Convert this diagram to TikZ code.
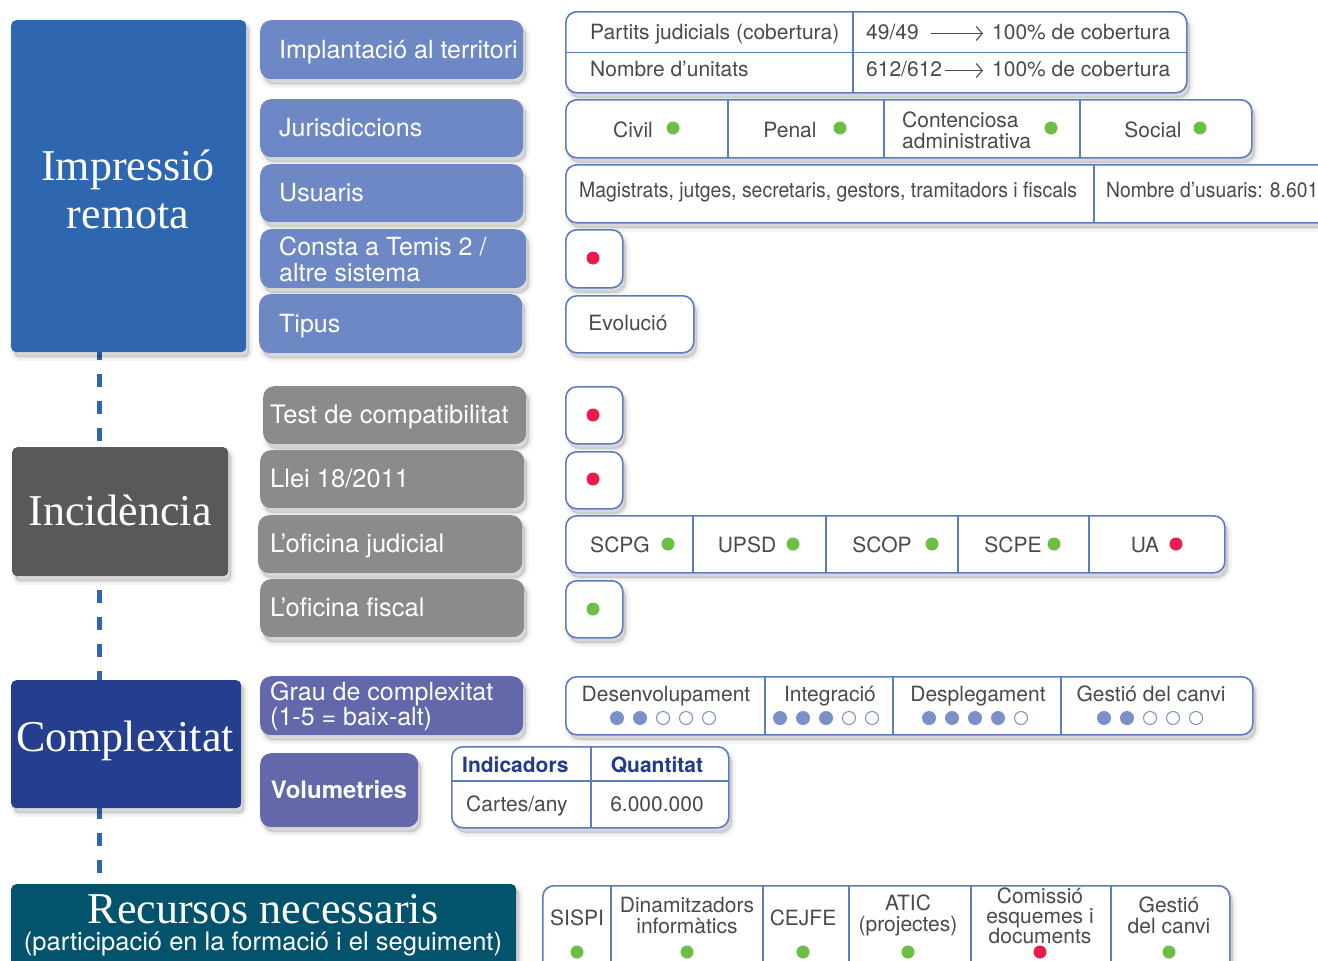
\documentclass[tikz,border=0pt]{standalone}
\usepackage{fontspec}
\usepackage{graphicx}
\setmainfont{TeX Gyre Heros}
\newfontfamily\headfont{Liberation Serif}
\usetikzlibrary{arrows.meta,backgrounds}
\definecolor{impblue}{HTML}{2E66B0}
\definecolor{impchild}{HTML}{6E87C5}
\definecolor{incgrey}{HTML}{58595B}
\definecolor{incchild}{HTML}{8A8B8D}
\definecolor{compblue}{HTML}{253F8E}
\definecolor{compchild}{HTML}{6268A9}
\definecolor{recteal}{HTML}{02536B}
\definecolor{tblborder}{HTML}{5B7CC0}
\definecolor{txtgrey}{HTML}{4A4A4A}
\definecolor{okgreen}{HTML}{6DBE45}
\definecolor{nored}{HTML}{EC1B4B}
\definecolor{dotblue}{HTML}{7B8FC9}
\definecolor{hdrblue}{HTML}{1F3C8C}
\definecolor{linegrey}{HTML}{5A5A5A}
\tikzset{
 shad/.style={
   preaction={fill=black,fill opacity=0.05,draw=black,draw opacity=0.04,line width=8pt,transform canvas={xshift=3pt,yshift=-5pt}},
   preaction={fill=black,fill opacity=0.07,draw=black,draw opacity=0.06,line width=3pt,transform canvas={xshift=3pt,yshift=-5pt}}},
 headbox/.style={rounded corners=5pt,shad,anchor=north west,inner sep=0pt},
 headtext/.style={text=white,font=\headfont\fontsize{44}{48}\selectfont,align=center,inner sep=0pt},
 childbox/.style={rounded corners=11pt,shad,anchor=north west,inner sep=0pt},
 childtext/.style={text=white,font=\fontsize{25}{27}\selectfont,anchor=west,inner sep=0pt,text height=18pt,text depth=5pt},
 childtexttwo/.style={text=white,font=\fontsize{25}{26}\selectfont,anchor=west,inner sep=0pt,align=left},
 tbl/.style={draw=tblborder,line width=1.6pt,fill=white,rounded corners=11pt,shad,anchor=north west,inner sep=0pt},
 div/.style={draw=tblborder,line width=1.4pt},
 cell/.style={text=txtgrey,font=\fontsize{21}{21}\selectfont,inner sep=0pt,text height=15pt,text depth=4pt},
 mcell/.style={text=txtgrey,font=\fontsize{21}{21}\selectfont,inner sep=0pt,align=center},
 conn/.style={draw=linegrey,line width=1.2pt},
 arr/.style={draw=txtgrey,line width=1.1pt,-{Straight Barb[length=6pt,width=14pt]}},
 gdot/.style={fill=okgreen},
 rdot/.style={fill=nored},
}
\begin{document}
\begin{tikzpicture}[x=1pt,y=-1pt]
\useasboundingbox (0,0) rectangle (1318,961);
\clip (0,0) rectangle (1318,961);
\fill[white] (0,0) rectangle (1318,961);
\coordinate (dtop) at (99,347);
\coordinate (dbot) at (99,890);
\draw[impblue,line width=5pt,dash pattern=on 13pt off 14pt] (dtop) -- (dbot);

% ---------- Impressió remota ----------
\node[headbox,fill=impblue,minimum width=235,minimum height=332] (imp) at (11,20) {};
\node[headtext] (imp-t) at (128,189) {Impressió\\remota};

\node[childbox,fill=impchild,minimum width=263,minimum height=59] (impl) at (260,20) {};
\node[childtext] (impl-t) at (279,51.5) {Implantació al territori};
\node[childbox,fill=impchild,minimum width=263,minimum height=58] (jur) at (260,99) {};
\node[childtext] (jur-t) at (279,130) {Jurisdiccions};
\node[childbox,fill=impchild,minimum width=263,minimum height=58] (usu) at (260,164) {};
\node[childtext] (usu-t) at (279,195) {Usuaris};
\node[childbox,fill=impchild,minimum width=266,minimum height=59] (con) at (260,229) {};
\node[childtexttwo] (con-t) at (279,259) {Consta a Temis 2 /\\altre sistema};
\node[childbox,fill=impchild,minimum width=263,minimum height=59] (tip) at (259,294) {};
\node[childtext] (tip-t) at (279,325.5) {Tipus};

% table 1
\node[tbl,minimum width=621,minimum height=81] (t1) at (565,11) {};
\draw[div] (t1.west) -- (t1.east);
\draw[div] (853,11) -- (853,92);
\node[cell,anchor=west] (t1a) at (590,33.5) {Partits judicials (cobertura)};
\node[cell,anchor=west] (t1b) at (866,33.5) {49/49};
\node[cell,anchor=west] (t1c) at (992,33.5) {100\% de cobertura};
\draw[arr] ([xshift=12pt]t1b.east) -- ([xshift=-9pt]t1c.west);
\node[cell,anchor=west] (t1d) at (590,70.5) {Nombre d’unitats};
\node[cell,anchor=west] (t1e) at (866,70.5) {612/612};
\node[cell,anchor=west] (t1f) at (992,70.5) {100\% de cobertura};
\draw[arr] ([xshift=3pt]t1e.east) -- ([xshift=-9pt]t1f.west);

% table 2
\node[tbl,minimum width=686,minimum height=58] (t2) at (565,99) {};
\draw[div] (728,99) -- (728,157);
\draw[div] (884,99) -- (884,157);
\draw[div] (1080,99) -- (1080,157);
\node[cell] (civ) at (633,131.5) {Civil};
\fill[gdot] (673,128) circle (6.5pt);
\node[cell] (pen) at (790,131.5) {Penal};
\fill[gdot] (840,128) circle (6.5pt);
\node[mcell,align=left,anchor=west] (cont) at (902,130) {Contenciosa\\administrativa};
\fill[gdot] (1051,128) circle (6.5pt);
\node[cell] (soc) at (1153,131.5) {Social};
\fill[gdot] (1200,128) circle (6.5pt);

% table 3
\node[tbl,minimum width=800,minimum height=58] (t3) at (565,164) {};
\draw[div] (1094,164) -- (1094,222);
\node[cell,anchor=west] (mag) at (579,191.5) {\scalebox{0.925}[1]{Magistrats, jutges, secretaris, gestors, tramitadors i fiscals}};
\node[cell,anchor=west] (nus) at (1106,191.5) {\scalebox{0.92}[1]{Nombre d’usuaris: 8.601}};

\node[tbl,minimum width=57,minimum height=58] (conr) at (565,229) {};
\fill[rdot] (593,258) circle (6.5pt);
\node[tbl,minimum width=128,minimum height=57] (tipr) at (565,295) {};
\node[cell] (evo) at (628,324.5) {Evolució};

% ---------- Incidència ----------
\node[headbox,fill=incgrey,minimum width=216,minimum height=129] (inc) at (12,447) {};
\node[headtext] (inc-t) at (120,510) {Incidència};
\coordinate (incT) at (180,447);
\coordinate (incB) at (180,576);

\node[childbox,fill=incchild,minimum width=263,minimum height=58] (test) at (263,386) {};
\node[childtext,font=\fontsize{25.5}{27}\selectfont] (test-t) at (270,417) {Test de compatibilitat};
\node[childbox,fill=incchild,minimum width=264,minimum height=58] (llei) at (260,450) {};
\node[childtext,font=\fontsize{25.5}{27}\selectfont] (llei-t) at (270,481) {Llei 18/2011};
\node[childbox,fill=incchild,minimum width=264,minimum height=58] (ofj) at (258,515) {};
\node[childtext,font=\fontsize{25.5}{27}\selectfont] (ofj-t) at (270,546) {L’oficina judicial};
\node[childbox,fill=incchild,minimum width=264,minimum height=58] (off) at (260,579) {};
\node[childtext,font=\fontsize{25.5}{27}\selectfont] (off-t) at (270,610) {L’oficina fiscal};

\node[tbl,minimum width=57,minimum height=57] (testr) at (565,386) {};
\fill[rdot] (593,415) circle (6.5pt);
\node[tbl,minimum width=57,minimum height=57] (leir) at (565,451) {};
\fill[rdot] (593,479) circle (6.5pt);
\node[tbl,minimum width=659,minimum height=57] (ofjr) at (565,515) {};
\draw[div] (693,515) -- (693,572);
\draw[div] (826,515) -- (826,572);
\draw[div] (958,515) -- (958,572);
\draw[div] (1089,515) -- (1089,572);
\node[cell] (scpg) at (620,546.5) {SCPG};
\fill[gdot] (668,544) circle (6.5pt);
\node[cell] (upsd) at (747,546.5) {UPSD};
\fill[gdot] (793,544) circle (6.5pt);
\node[cell] (scop) at (882,546.5) {SCOP};
\fill[gdot] (932,544) circle (6.5pt);
\node[cell] (scpe) at (1013,546.5) {SCPE};
\fill[gdot] (1054,544) circle (6.5pt);
\node[cell] (ua) at (1145,546.5) {UA};
\fill[rdot] (1176,544) circle (6.5pt);
\node[tbl,minimum width=57,minimum height=57] (offr) at (565,580) {};
\fill[gdot] (593,609) circle (6.5pt);

% ---------- Complexitat ----------
\node[headbox,fill=compblue,minimum width=230,minimum height=128] (comp) at (11,680) {};
\node[headtext] (comp-t) at (125,741) {Complexitat};

\node[childbox,fill=compchild,minimum width=263,minimum height=59] (grau) at (260,676) {};
\node[childtexttwo,font=\fontsize{25}{23}\selectfont] (grau-t) at (270,706) {Grau de complexitat\\(1-5 = baix-alt)};
\node[childbox,fill=compchild,minimum width=158,minimum height=74] (vol) at (260,753) {};
\node[childtext,anchor=center,font=\bfseries\fontsize{24}{26}\selectfont] (vol-t) at (339,792) {Volumetries};
\coordinate (volin) at (260,759);

\node[tbl,minimum width=687,minimum height=58] (grr) at (565,676) {};
\draw[div] (765,676) -- (765,734);
\draw[div] (893,676) -- (893,734);
\draw[div] (1061,676) -- (1061,734);
\node[cell] (desv) at (666,695.5) {Desenvolupament};
\node[cell] (integ) at (830,695.5) {Integració};
\node[cell] (despl) at (978,695.5) {Desplegament};
\node[cell] (gest) at (1151,695.5) {Gestió del canvi};
\foreach \x/\n in {617/2,780/3,929/4,1104/2}{
  \foreach \i in {0,...,4}{
    \pgfmathtruncatemacro{\filled}{\i<\n ? 1 : 0}
    \ifnum\filled=1
      \fill[dotblue] (\x+23*\i,718) circle (7pt);
    \else
      \draw[dotblue,line width=1pt] (\x+23*\i,718) circle (6.5pt);
    \fi
  }
}

\node[tbl,minimum width=277,minimum height=81] (volr) at (451,746) {};
\draw[div] (451,781) -- (728,781);
\draw[div] (591,746) -- (591,827);
\node[cell,anchor=west,text=hdrblue,font=\bfseries\fontsize{21}{21}\selectfont] (indh) at (462,766.5) {Indicadors};
\node[cell,text=hdrblue,font=\bfseries\fontsize{21}{21}\selectfont] (quah) at (657,766.5) {Quantitat};
\node[cell,anchor=west] (cart) at (466,805.5) {Cartes/any};
\node[cell] (quan) at (657,805.5) {6.000.000};

% ---------- Recursos necessaris ----------
\node[headbox,fill=recteal,minimum width=505,minimum height=110] (rec) at (11,884) {};
\node[text=white,font=\headfont\fontsize{44}{44}\selectfont,inner sep=0pt,anchor=base] (rec-t1) at (263,923) {Recursos necessaris};
\node[text=white,font=\fontsize{25.5}{26}\selectfont,inner sep=0pt,anchor=base] (rec-t2) at (263,950) {(participació en la formació i el seguiment)};
\coordinate (recin) at (542,924);

\node[tbl,minimum width=687,minimum height=100] (rr) at (542,885) {};
\draw[div] (611,885) -- (611,985);
\draw[div] (763,885) -- (763,985);
\draw[div] (849,885) -- (849,985);
\draw[div] (971,885) -- (971,985);
\draw[div] (1111,885) -- (1111,985);
\node[mcell] (sispi) at (577,918) {SISPI};
\node[mcell] (dinam) at (687,915) {Dinamitzadors\\informàtics};
\node[mcell] (cejfe) at (803,918) {CEJFE};
\node[mcell] (atic) at (908,915) {ATIC\\(projectes)};
\node[mcell,font=\fontsize{21}{19.5}\selectfont] (comis) at (1040,916) {Comissió\\esquemes i\\documents};
\node[mcell] (gcanvi) at (1169,915) {Gestió\\del canvi};
\fill[gdot] (577,952) circle (6.5pt);
\fill[gdot] (687,952) circle (6.5pt);
\fill[gdot] (803,952) circle (6.5pt);
\fill[gdot] (908,952) circle (6.5pt);
\fill[rdot] (1040,952) circle (6.5pt);
\fill[gdot] (1169,952) circle (6.5pt);

% ---------- connectors ----------
\begin{pgfonlayer}{background}
\foreach \c in {impl,jur,usu,con,tip}{
  \draw[conn] (\c.west) -- (\c.west -| imp.east);
}
\draw[conn] (impl.east) -- (impl.east -| t1.west);
\draw[conn] (jur.east) -- (jur.east -| t2.west);
\draw[conn] (usu.east) -- (usu.east -| t3.west);
\draw[conn] (con.east) -- (con.east -| conr.west);
\draw[conn] (tip.east) -- (tip.east -| tipr.west);

\draw[conn] (test.west) -| (incT);
\draw[conn] (off.west) -| (incB);
\draw[conn] (llei.west) -- (llei.west -| inc.east);
\draw[conn] (ofj.west) -- (ofj.west -| inc.east);
\draw[conn] (test.east) -- (test.east -| testr.west);
\draw[conn] (llei.east) -- (llei.east -| leir.west);
\draw[conn] (ofj.east) -- (ofj.east -| ofjr.west);
\draw[conn] (off.east) -- (off.east -| offr.west);

\draw[conn] (grau.west) -- (grau.west -| comp.east);
\draw[conn] (volin) -- (volin -| comp.east);
\draw[conn] (grau.east) -- (grau.east -| grr.west);
\draw[conn] (vol.east) -- (vol.east -| volr.west);

\draw[conn] (recin -| rec.east) -- (recin);
\end{pgfonlayer}
\end{tikzpicture}
\end{document}
